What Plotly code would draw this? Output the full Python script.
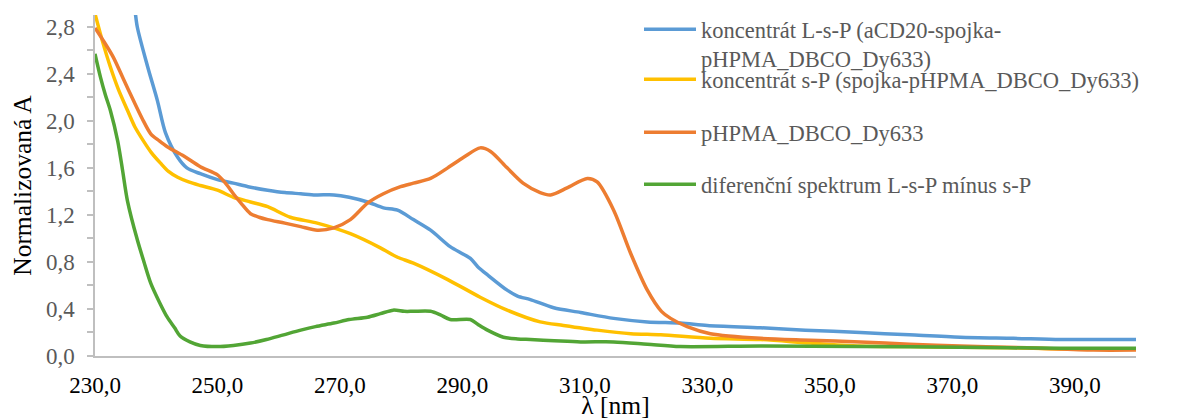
import plotly.graph_objects as go

# ---- data ----
blue_x = [235.5, 236.3, 236.9, 238.6, 240.2, 241.5, 243.5, 245.0, 247.2, 250.0, 252.6, 255.0,
          258.2, 261.0, 263.6, 266.0, 269.0, 271.5, 274.5, 277.1, 279.4, 282.0, 284.8, 288.0,
          290.0, 291.3, 292.5, 294.1, 297.3, 299.0, 301.1, 304.9, 309.3, 314.7, 320.2, 325.6,
          330.0, 338.7, 346.0, 355.0, 363.0, 371.3, 380.0, 387.6, 394.0, 400.0]
blue_y = [3.20, 3.03, 2.80, 2.46, 2.17, 1.90, 1.69, 1.60, 1.55, 1.50, 1.47, 1.44,
          1.41, 1.39, 1.38, 1.37, 1.37, 1.35, 1.31, 1.26, 1.24, 1.16, 1.07, 0.93,
          0.87, 0.83, 0.76, 0.69, 0.56, 0.51, 0.48, 0.41, 0.37, 0.32, 0.29, 0.28,
          0.26, 0.24, 0.22, 0.20, 0.18, 0.16, 0.15, 0.14, 0.14, 0.14]

yel_x = [230.0, 231.2, 232.5, 233.8, 235.3, 236.5, 237.9, 239.2, 240.7, 242.0, 243.5, 245.3,
         247.2, 250.0, 252.6, 255.4, 258.2, 261.9, 266.3, 271.7, 276.6, 279.4, 282.0, 287.6,
         292.9, 297.3, 302.7, 306.5, 312.0, 317.5, 322.4, 330.5, 338.7, 346.8, 355.0, 363.0,
         371.3, 380.0, 387.6, 400.0]
yel_y = [2.91, 2.68, 2.46, 2.27, 2.09, 1.95, 1.83, 1.73, 1.64, 1.57, 1.52, 1.48,
         1.45, 1.41, 1.35, 1.31, 1.27, 1.18, 1.13, 1.04, 0.92, 0.84, 0.79, 0.65,
         0.50, 0.39, 0.29, 0.26, 0.22, 0.19, 0.18, 0.15, 0.14, 0.11, 0.085, 0.08,
         0.075, 0.07, 0.06, 0.06]

or_x = [230.0, 231.5, 233.0, 234.6, 236.3, 237.7, 239.1, 240.5, 241.8, 244.5, 247.2, 250.0,
        251.3, 252.6, 254.0, 255.4, 256.8, 258.2, 261.0, 263.6, 266.3, 269.0, 271.7, 274.5,
        277.1, 279.9, 282.0, 284.8, 287.6, 290.2, 292.9, 294.6, 297.3, 299.9, 302.7, 304.4,
        307.1, 310.4, 312.0, 314.7, 317.5, 320.2, 322.5, 324.0, 326.7, 330.5, 338.7, 346.8,
        355.0, 363.0, 371.3, 382.3, 393.0, 400.0]
or_y = [2.79, 2.67, 2.54, 2.36, 2.17, 2.02, 1.89, 1.83, 1.78, 1.70, 1.61, 1.54,
        1.47, 1.38, 1.29, 1.21, 1.18, 1.16, 1.13, 1.10, 1.07, 1.09, 1.16, 1.30,
        1.38, 1.44, 1.47, 1.51, 1.60, 1.69, 1.77, 1.74, 1.60, 1.47, 1.39, 1.37,
        1.43, 1.51, 1.48, 1.24, 0.87, 0.56, 0.38, 0.32, 0.25, 0.19, 0.15, 0.135,
        0.12, 0.10, 0.085, 0.07, 0.05, 0.05]

gr_x = [230.0, 230.9, 231.7, 232.5, 233.7, 234.5, 235.3, 236.9, 238.0, 239.1, 240.5, 241.8,
        243.0, 243.9, 245.5, 247.2, 250.0, 252.6, 255.4, 258.0, 260.8, 263.6, 266.0, 269.0,
        271.5, 274.5, 276.6, 278.7, 280.5, 282.0, 284.8, 286.4, 288.0, 291.3, 292.5, 294.1,
        296.7, 299.0, 301.1, 305.0, 309.3, 314.7, 320.2, 325.6, 338.7, 355.0, 371.3, 387.6,
        400.0]
gr_y = [2.57, 2.37, 2.22, 2.09, 1.83, 1.58, 1.32, 0.99, 0.80, 0.62, 0.46, 0.33,
        0.24, 0.17, 0.12, 0.09, 0.08, 0.09, 0.11, 0.14, 0.18, 0.22, 0.25, 0.28,
        0.31, 0.33, 0.36, 0.39, 0.38, 0.38, 0.38, 0.35, 0.31, 0.31, 0.27, 0.22,
        0.16, 0.145, 0.14, 0.13, 0.12, 0.12, 0.10, 0.08, 0.085, 0.08, 0.075, 0.065,
        0.065]

names = ["koncentrát L-s-P (aCD20-spojka-<br>pHPMA_DBCO_Dy633)",
         "koncentrát s-P (spojka-pHPMA_DBCO_Dy633)",
         "pHPMA_DBCO_Dy633",
         "diferenční spektrum L-s-P mínus s-P"]
colors = ["#5B9BD5", "#FFC000", "#ED7D31", "#52A535"]

x_ticks = [230, 250, 270, 290, 310, 330, 350, 370, 390]
x_ticklabels = ["230,0", "250,0", "270,0", "290,0", "310,0", "330,0", "350,0", "370,0", "390,0"]
y_ticks = [0.0, 0.4, 0.8, 1.2, 1.6, 2.0, 2.4, 2.8]
y_ticklabels = ["0,0", "0,4", "0,8", "1,2", "1,6", "2,0", "2,4", "2,8"]

FONT = "Liberation Serif"
FS_TICK = 23
FS_LEG = 22.5
FS_TITLE = 25.5

# page offset of the figure (body margin of the html page)
OFF = 8
W, H = 1177 - OFF, 420 - OFF

series = [(blue_x, blue_y), (yel_x, yel_y), (or_x, or_y), (gr_x, gr_y)]
legend_ids = ["legend", "legend2", "legend3", "legend4"]

fig = go.Figure()
for (xs, ys), nm, col, lg in zip(series, names, colors, legend_ids):
    fig.add_trace(go.Scatter(x=xs, y=ys, mode="lines", name=nm,
                             line=dict(color=col, width=3.5, shape="spline", smoothing=0.8),
                             legend=lg))

leg_x = (639 - OFF) / W
leg_centers = [24 - OFF, 75 - OFF, 128 - OFF, 180 - OFF]
common_leg = dict(xref="container", yref="container", xanchor="left",
                  bgcolor="rgba(0,0,0,0)", borderwidth=0, itemwidth=52,
                  font=dict(family=FONT, size=FS_LEG, color="#595959"), valign="top",
                  itemclick=False, itemdoubleclick=False)

leg_layout = {}
for lg, cy in zip(legend_ids, leg_centers):
    d = dict(common_leg)
    d.update(x=leg_x, y=1 - (cy - 17) / H, yanchor="top")
    leg_layout[lg] = d

fig.update_layout(
    width=W, height=H,
    margin=dict(l=95 - OFF, r=41, t=15 - OFF, b=64, autoexpand=False),
    paper_bgcolor="white", plot_bgcolor="white",
    font=dict(family=FONT, size=FS_TICK, color="#595959"),
    showlegend=True,
    xaxis=dict(range=[230, 400], tickmode="array", tickvals=x_ticks, ticktext=x_ticklabels,
               showgrid=False, zeroline=False, showline=True, linecolor="#BFBFBF", linewidth=1.5,
               ticks="", tickfont=dict(family=FONT, size=FS_TICK, color="#000000"),
               ticklabelstandoff=8,
               title=dict(text="λ [nm]", font=dict(family=FONT, size=FS_TITLE, color="#000000"),
                          standoff=12)),
    yaxis=dict(range=[0, 2.9], tickmode="array", tickvals=y_ticks, ticktext=y_ticklabels,
               showgrid=False, zeroline=False, showline=True, linecolor="#BFBFBF", linewidth=1.5,
               ticks="outside", ticklen=6, tickcolor="#BFBFBF", tickwidth=1.5,
               minor=dict(dtick=0.2, tick0=0, ticks="outside", ticklen=6, tickcolor="#BFBFBF",
                          tickwidth=1.5, showgrid=False),
               tickfont=dict(family=FONT, size=FS_TICK, color="#595959"),
               ticklabelstandoff=8,
               title=dict(text="Normalizovaná A", font=dict(family=FONT, size=FS_TITLE, color="#000000"),
                          standoff=10)),
    **leg_layout,
)

fig.write_html("out.html")
